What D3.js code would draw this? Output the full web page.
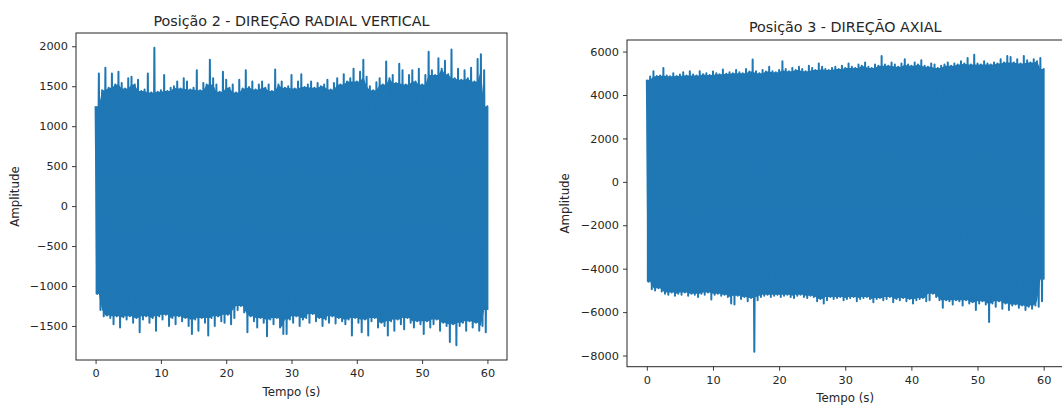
<!DOCTYPE html>
<html lang="pt">
<head>
  <meta charset="utf-8">
  <title>Sinais de vibração - Posições 2 e 3</title>
  <script src="https://d3js.org/d3.v7.min.js"></script>
  <style>
    body {
      margin: 0;
      padding: 0;
      background: #fff;
      overflow: hidden;
    }

    svg text {
      font-family: "DejaVu Sans", sans-serif;
      fill: #262626;
    }

    .axis line {
      stroke: #262626;
      stroke-width: 0.9;
    }
  </style>
</head>

<body>
  <svg id="chart" width="1062" height="406"></svg>

  <script>
    // envelope of each signal, one max/min pair every half second (0 .. 60 s)
    const timeStep = 0.5;

    const pos2Top = [
      1250, 1660, 1450, 1730, 1480, 1660, 1520, 1680, 1540, 1470,
      1600, 1620, 1520, 1580, 1440, 1460, 1660, 1420, 1980, 1430,
      1450, 1640, 1440, 1480, 1500, 1560, 1470, 1600, 1560, 1460,
      1480, 1700, 1450, 1540, 1520, 1830, 1600, 1520, 1430, 1680,
      1580, 1480, 1520, 1420, 1580, 1470, 1700, 1490, 1560, 1460,
      1520, 1560, 1480, 1520, 1440, 1710, 1520, 1560, 1480, 1500,
      1640, 1470, 1560, 1650, 1490, 1520, 1560, 1480, 1540, 1500,
      1520, 1580, 1460, 1540, 1600, 1520, 1650, 1560, 1600, 1720,
      1560, 1680, 1830, 1620, 1500, 1450, 1550, 1600, 1520, 1810,
      1600, 1640, 1540, 1780, 1700, 1520, 1640, 1700, 1560, 1720,
      1520, 1640, 1930, 1700, 1640, 1850, 1720, 1820, 1650, 1960,
      1600, 1720, 1580, 1700, 1600, 1730, 1560, 1840, 1900, 1700,
      1250
    ];
    const pos2Bottom = [
      -1100, -1300, -1380, -1370, -1400, -1480, -1380, -1520, -1390, -1420,
      -1380, -1460, -1400, -1580, -1420, -1380, -1460, -1400, -1560, -1380,
      -1420, -1360, -1500, -1400, -1480, -1380, -1440, -1400, -1500, -1600,
      -1420, -1560, -1400, -1460, -1620, -1400, -1500, -1380, -1440, -1460,
      -1360, -1480, -1400, -1300, -1250, -1330, -1580, -1380, -1440, -1520,
      -1400, -1460, -1630, -1420, -1480, -1400, -1520, -1600, -1600, -1420,
      -1460, -1380, -1500, -1420, -1400, -1460, -1350, -1440, -1400, -1500,
      -1420, -1460, -1380, -1470, -1400, -1440, -1480, -1420, -1620, -1400,
      -1460, -1580, -1420, -1620, -1440, -1400, -1520, -1460, -1500, -1620,
      -1440, -1560, -1420, -1480, -1540, -1400, -1460, -1520, -1440, -1480,
      -1600, -1440, -1520, -1480, -1420, -1560, -1460, -1500, -1700, -1480,
      -1740, -1500, -1460, -1560, -1440, -1520, -1460, -1560, -1500, -1580,
      -1300
    ];

    const pos3Top = [
      4700, 4850, 5100, 4880, 4900, 5250, 4900, 4860, 5000, 4880,
      4950, 5050, 4900, 5100, 4950, 4900, 5100, 4960, 5000, 4920,
      5080, 5000, 4960, 5180, 4980, 5050, 5000, 5150, 5050, 5000,
      5200, 5080, 5640, 5100, 5000, 5150, 5080, 5300, 5100, 5050,
      5150, 5560, 5200, 5100, 5250, 5150, 5300, 5200, 5100, 5350,
      5250, 5150, 5450, 5300, 5200, 5150, 5250, 5300, 5200, 5350,
      5250, 5450, 5300, 5250, 5400, 5350, 5500, 5300, 5250, 5400,
      5350, 5800, 5400, 5350, 5500, 5400, 5300, 5450, 5650, 5400,
      5350, 5500, 5400, 5600, 5350, 5300, 5450, 5400, 5250, 5350,
      5400, 5500, 5350, 5450, 5400, 5550, 5450, 5700, 5400, 5850,
      5450, 5400, 5550, 5450, 5400, 5500, 5450, 5650, 5500, 5800,
      5750, 5500, 5650, 5450, 5800, 5600, 5500, 5650, 5550, 5700,
      5200
    ];
    const pos3Bottom = [
      -4600, -4950, -5000, -4900, -5050, -5150, -5200, -5100, -5250, -5150,
      -5200, -5100, -5250, -5150, -5200, -5300, -5150, -5200, -5100, -5420,
      -5200, -5150, -5250, -5200, -5300, -5600, -5650, -5250, -5400, -5300,
      -5500, -5350, -7830, -5450, -5300, -5250, -5200, -5300, -5250, -5200,
      -5300, -5250, -5200, -5300, -5350, -5250, -5200, -5300, -5350, -5250,
      -5300, -5500, -5400, -5600, -5450, -5300, -5400, -5350, -5300, -5450,
      -5400, -5350, -5300, -5500, -5400, -5350, -5300, -5400, -5550, -5400,
      -5350, -5450, -5400, -5300, -5550, -5400, -5450, -5350, -5500, -5400,
      -5600, -5450, -5400, -5350, -5500, -5450, -5150, -5300, -5450, -5800,
      -5450, -5500, -5650, -5450, -5500, -5700, -5450, -5600, -5550, -5900,
      -5600, -5500, -5650, -6450, -5600, -5750, -5500, -5850, -5600, -5900,
      -5700, -5650, -5800, -5700, -5900, -5750, -5850, -5700, -5750, -5500,
      -4500
    ];

    const xTicks = [0, 10, 20, 30, 40, 50, 60];
    const pos2YTicks = [-1500, -1000, -500, 0, 500, 1000, 1500, 2000];
    const pos3YTicks = [-8000, -6000, -4000, -2000, 0, 2000, 4000, 6000];

    const panels = [
      {
        title: "Posição 2 - DIREÇÃO RADIAL VERTICAL",
        top: pos2Top, bottom: pos2Bottom, yTicks: pos2YTicks,
        box: { left: 76, right: 507, top: 33, bottom: 360 },
        titleY: 26, xLabelY: 396, yLabelX: 19
      },
      {
        title: "Posição 3 - DIREÇÃO AXIAL",
        top: pos3Top, bottom: pos3Bottom, yTicks: pos3YTicks,
        box: { left: 627, right: 1063.5, top: 40, bottom: 366.7 },
        titleY: 32, xLabelY: 402, yLabelX: 569
      }
    ];

    const color = "#1f77b4";
    const svg = d3.select("#chart");

    panels.forEach(p => {
      const b = p.box;
      const g = svg.append("g");

      // matplotlib-like autoscale: data range plus 5% on each side
      const tEnd = (p.top.length - 1) * timeStep;
      const yMin = d3.min(p.bottom), yMax = d3.max(p.top);
      const yPad = (yMax - yMin) * 0.05;

      const x = d3.scaleLinear()
        .domain([-tEnd * 0.05, tEnd * 1.05])
        .range([b.left, b.right]);
      const y = d3.scaleLinear()
        .domain([yMin - yPad, yMax + yPad])
        .range([b.bottom, b.top]);

      // solid core of the band: the lower of neighbouring peaks
      const n = p.top.length;
      const around = (arr, i) => [arr[Math.max(i - 1, 0)], arr[i], arr[Math.min(i + 1, n - 1)]];
      const core = p.top.map((v, i) => ({
        t: i * timeStep,
        hi: d3.min(around(p.top, i)),
        lo: d3.max(around(p.bottom, i))
      }));

      g.append("path")
        .datum(core)
        .attr("d", d3.area().x(d => x(d.t)).y0(d => y(d.lo)).y1(d => y(d.hi)))
        .attr("fill", color);

      // the signal drawn as a dense line swinging between max and min
      const points = p.top.flatMap((v, i) => {
        const t = i * timeStep;
        return [[t, v], [Math.min(t + timeStep / 2, tEnd), p.bottom[i]]];
      });

      g.append("path")
        .datum(points)
        .attr("d", d3.line().x(d => x(d[0])).y(d => y(d[1])))
        .attr("fill", "none")
        .attr("stroke", color)
        .attr("stroke-width", 2)
        .attr("stroke-linejoin", "round");

      // axes
      const xAxis = g.append("g")
        .attr("class", "axis")
        .attr("transform", `translate(0,${b.bottom})`)
        .call(d3.axisBottom(x).tickValues(xTicks).tickFormat(d3.format("d"))
          .tickSize(4).tickPadding(5).tickSizeOuter(0));

      const yAxis = g.append("g")
        .attr("class", "axis")
        .attr("transform", `translate(${b.left},0)`)
        .call(d3.axisLeft(y).tickValues(p.yTicks).tickFormat(d3.format("d"))
          .tickSize(4).tickPadding(4).tickSizeOuter(0));

      [xAxis, yAxis].forEach(a => {
        a.select(".domain").remove();
        a.selectAll("text")
          .attr("font-size", "11.3px")
          .style("font-family", "'DejaVu Sans', sans-serif");
      });

      // frame
      g.append("rect")
        .attr("x", b.left)
        .attr("y", b.top)
        .attr("width", b.right - b.left)
        .attr("height", b.bottom - b.top)
        .attr("fill", "none")
        .attr("stroke", "#262626")
        .attr("stroke-width", 1);

      g.append("text")
        .attr("x", (b.left + b.right) / 2)
        .attr("y", p.titleY)
        .attr("text-anchor", "middle")
        .attr("font-size", "14.3px")
        .text(p.title);

      g.append("text")
        .attr("x", (b.left + b.right) / 2)
        .attr("y", p.xLabelY)
        .attr("text-anchor", "middle")
        .attr("font-size", "11.8px")
        .text("Tempo (s)");

      g.append("text")
        .attr("transform", `translate(${p.yLabelX},${(b.top + b.bottom) / 2}) rotate(-90)`)
        .attr("text-anchor", "middle")
        .attr("font-size", "11.8px")
        .text("Amplitude");
    });
  </script>
</body>

</html>
